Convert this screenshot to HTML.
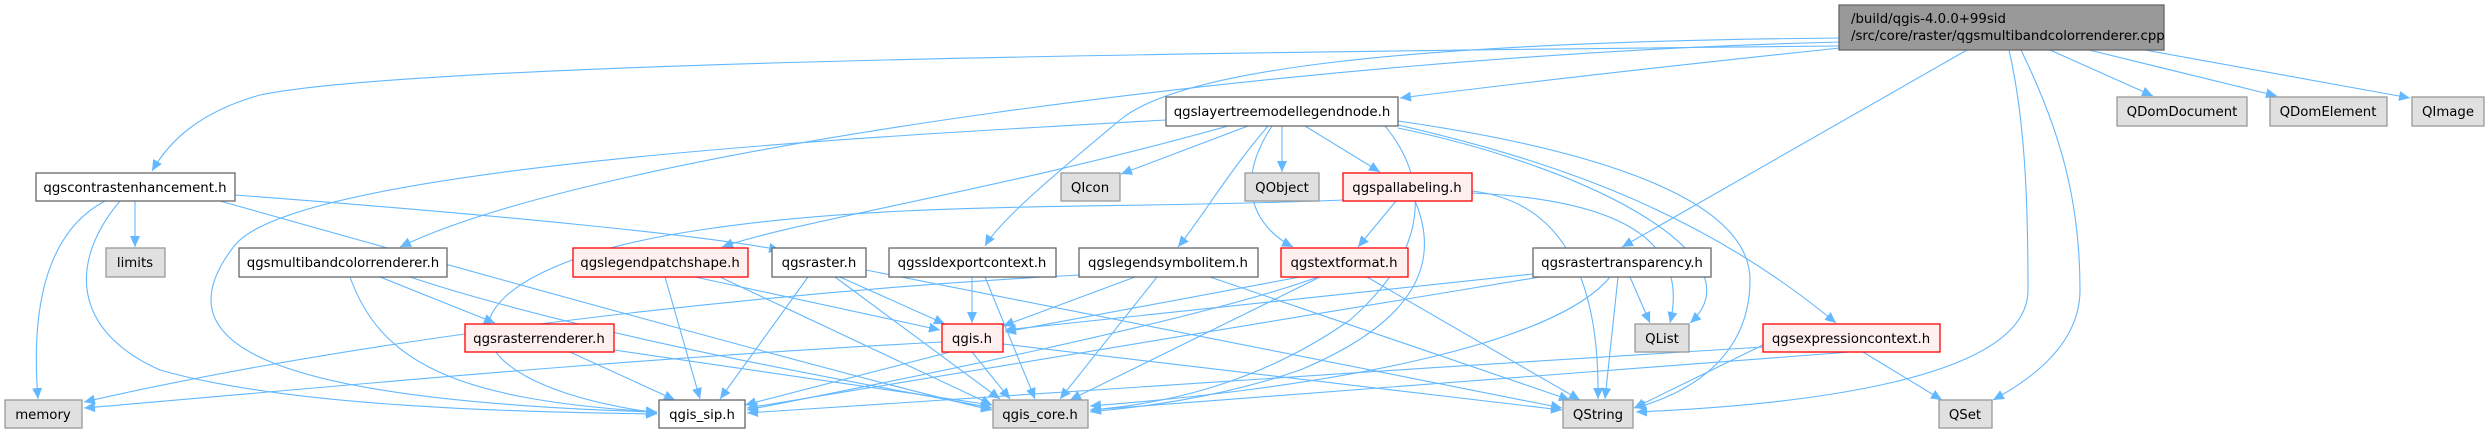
<!DOCTYPE html>
<html><head><meta charset="utf-8"><style>
html,body{margin:0;padding:0;background:#fff;}
svg{display:block;}
text{font-family:"DejaVu Sans","Liberation Sans",sans-serif;font-size:13.3px;fill:#000;}
.e{fill:none;stroke:#63b8ff;stroke-width:1.1;marker-end:url(#a);}
.w{fill:#fff;stroke:#666;stroke-width:1.3;}
.g{fill:#e0e0e0;stroke:#999;stroke-width:1.3;}
.r{fill:#fff0f0;stroke:#ff0000;stroke-width:1.3;}
</style></head><body>
<svg width="2488" height="434" viewBox="0 0 2488 434" xmlns="http://www.w3.org/2000/svg">
<defs><marker id="a" markerUnits="userSpaceOnUse" markerWidth="12" markerHeight="10" refX="11" refY="5" orient="auto"><path d="M0,0 L11,5 L0,10 z" fill="#63b8ff"/></marker></defs>
<g>
<path class="e" d="M1840,46 C1200,52 420,62 260,95 C200,112 170,140 152,171"/>
<path class="e" d="M1840,42 C1300,55 600,150 400,247"/>
<path class="e" d="M1840,48 C1650,68 1480,88 1400,98"/>
<path class="e" d="M1840,38 C1400,42 1180,70 1120,120 C1060,170 1000,220 985,246"/>
<path class="e" d="M1967,50 L1622,247"/>
<path class="e" d="M2009,50 C2025,120 2028,200 2028,290 C2028,380 1800,405 1636,412"/>
<path class="e" d="M2021,50 C2060,130 2080,200 2080,290 C2080,350 2020,385 1993,400"/>
<path class="e" d="M2050,50 L2153,96"/>
<path class="e" d="M2089,50 L2277,96"/>
<path class="e" d="M2145,50 L2410,98"/>
<path class="e" d="M1166,120 C900,135 300,165 235,245 C160,340 250,400 657,412"/>
<path class="e" d="M1228,126 C1000,190 800,220 722,247"/>
<path class="e" d="M1248,126 L1121,174"/>
<path class="e" d="M1268,126 C1230,170 1200,220 1178,247"/>
<path class="e" d="M1272,126 C1230,190 1260,230 1293,247"/>
<path class="e" d="M1282,126 L1282,172"/>
<path class="e" d="M1305,126 L1380,172"/>
<path class="e" d="M1385,126 C1430,180 1430,250 1350,320 C1250,390 1150,405 1090,410"/>
<path class="e" d="M1398,121 C1600,150 1750,200 1750,280 C1750,350 1700,390 1635,408"/>
<path class="e" d="M1398,125 C1550,160 1700,210 1836,323"/>
<path class="e" d="M1398,128 C1600,170 1760,260 1690,323"/>
<path class="e" d="M135,201 L135,247"/>
<path class="e" d="M105,201 C50,230 30,300 38,399"/>
<path class="e" d="M120,201 C70,260 70,330 160,370 C300,410 550,412 657,414"/>
<path class="e" d="M220,201 C500,280 900,390 992,410"/>
<path class="e" d="M235,195 C500,215 700,235 780,250"/>
<path class="e" d="M380,277 L495,323"/>
<path class="e" d="M350,277 C380,360 450,400 657,412"/>
<path class="e" d="M410,277 C600,340 900,390 992,408"/>
<path class="e" d="M570,352 L675,400"/>
<path class="e" d="M614,350 L992,405"/>
<path class="e" d="M665,277 L700,399"/>
<path class="e" d="M695,277 L940,330"/>
<path class="e" d="M720,277 L992,405"/>
<path class="e" d="M808,277 L720,399"/>
<path class="e" d="M840,277 L945,324"/>
<path class="e" d="M835,277 L1000,399"/>
<path class="e" d="M866,270 L1562,408"/>
<path class="e" d="M972,277 L972,323"/>
<path class="e" d="M985,277 L1035,399"/>
<path class="e" d="M1079,275 C800,290 400,330 84,402"/>
<path class="e" d="M1135,277 L1003,326"/>
<path class="e" d="M1157,277 L1060,399"/>
<path class="e" d="M1210,277 L1570,400"/>
<path class="e" d="M1300,277 L1005,332"/>
<path class="e" d="M1318,277 C1200,320 900,380 747,410"/>
<path class="e" d="M1320,277 L1070,400"/>
<path class="e" d="M1367,277 L1580,400"/>
<path class="e" d="M1343,200 C1100,210 900,200 700,230 C430,270 420,380 657,413"/>
<path class="e" d="M1396,201 L1358,247"/>
<path class="e" d="M1415,201 C1440,260 1420,320 1300,370 C1200,405 1100,410 1090,412"/>
<path class="e" d="M1472,191 C1550,200 1600,260 1598,399"/>
<path class="e" d="M1472,193 C1620,200 1690,240 1670,323"/>
<path class="e" d="M1533,274 L1005,330"/>
<path class="e" d="M1540,277 L747,408"/>
<path class="e" d="M1610,277 C1550,350 1300,390 1090,406"/>
<path class="e" d="M1618,277 L1605,399"/>
<path class="e" d="M1630,277 L1650,323"/>
<path class="e" d="M942,342 C600,360 300,390 84,408"/>
<path class="e" d="M950,352 L745,405"/>
<path class="e" d="M972,352 L1010,399"/>
<path class="e" d="M1003,344 L1562,410"/>
<path class="e" d="M1763,347 C1400,370 900,400 747,413"/>
<path class="e" d="M1850,352 L1090,410"/>
<path class="e" d="M1763,345 L1634,408"/>
<path class="e" d="M1863,352 L1942,400"/>
</g>
<g>
<rect x="1839" y="5" width="325" height="45" fill="#999" stroke="#666" stroke-width="1.3"/>
<text x="1851" y="23">/build/qgis-4.0.0+99sid</text>
<text x="1851" y="40">/src/core/raster/qgsmultibandcolorrenderer.cpp</text>

<rect class="w" x="1166" y="97" width="232" height="29"/><text x="1282" y="116" text-anchor="middle">qgslayertreemodellegendnode.h</text>
<rect class="g" x="2117" y="97" width="130" height="29"/><text x="2182" y="116" text-anchor="middle">QDomDocument</text>
<rect class="g" x="2270" y="97" width="117" height="29"/><text x="2328" y="116" text-anchor="middle">QDomElement</text>
<rect class="g" x="2412" y="97" width="72" height="29"/><text x="2448" y="116" text-anchor="middle">QImage</text>

<rect class="w" x="36" y="173" width="199" height="28"/><text x="135" y="192" text-anchor="middle">qgscontrastenhancement.h</text>
<rect class="g" x="1061" y="173" width="59" height="28"/><text x="1090" y="192" text-anchor="middle">QIcon</text>
<rect class="g" x="1245" y="173" width="74" height="28"/><text x="1282" y="192" text-anchor="middle">QObject</text>
<rect class="r" x="1343" y="173" width="129" height="28"/><text x="1407" y="192" text-anchor="middle">qgspallabeling.h</text>

<rect class="g" x="106" y="248" width="59" height="29"/><text x="135" y="267" text-anchor="middle">limits</text>
<rect class="w" x="239" y="248" width="208" height="29"/><text x="343" y="267" text-anchor="middle">qgsmultibandcolorrenderer.h</text>
<rect class="r" x="573" y="248" width="175" height="29"/><text x="660" y="267" text-anchor="middle">qgslegendpatchshape.h</text>
<rect class="w" x="772" y="248" width="94" height="29"/><text x="819" y="267" text-anchor="middle">qgsraster.h</text>
<rect class="w" x="889" y="248" width="167" height="29"/><text x="972" y="267" text-anchor="middle">qgssldexportcontext.h</text>
<rect class="w" x="1079" y="248" width="179" height="29"/><text x="1168" y="267" text-anchor="middle">qgslegendsymbolitem.h</text>
<rect class="r" x="1281" y="248" width="127" height="29"/><text x="1344" y="267" text-anchor="middle">qgstextformat.h</text>
<rect class="w" x="1533" y="248" width="178" height="29"/><text x="1622" y="267" text-anchor="middle">qgsrastertransparency.h</text>

<rect class="r" x="465" y="324" width="149" height="28"/><text x="539" y="343" text-anchor="middle">qgsrasterrenderer.h</text>
<rect class="r" x="942" y="324" width="61" height="28"/><text x="972" y="343" text-anchor="middle">qgis.h</text>
<rect class="g" x="1635" y="324" width="54" height="28"/><text x="1662" y="343" text-anchor="middle">QList</text>
<rect class="r" x="1763" y="324" width="177" height="28"/><text x="1851" y="343" text-anchor="middle">qgsexpressioncontext.h</text>

<rect class="g" x="5" y="400" width="77" height="28"/><text x="43" y="419" text-anchor="middle">memory</text>
<rect class="w" x="659" y="400" width="86" height="28"/><text x="702" y="419" text-anchor="middle">qgis_sip.h</text>
<rect class="g" x="993" y="400" width="95" height="28"/><text x="1040" y="419" text-anchor="middle">qgis_core.h</text>
<rect class="g" x="1563" y="400" width="70" height="28"/><text x="1598" y="419" text-anchor="middle">QString</text>
<rect class="g" x="1939" y="400" width="53" height="28"/><text x="1965" y="419" text-anchor="middle">QSet</text>
</g>
</svg>
</body></html>
